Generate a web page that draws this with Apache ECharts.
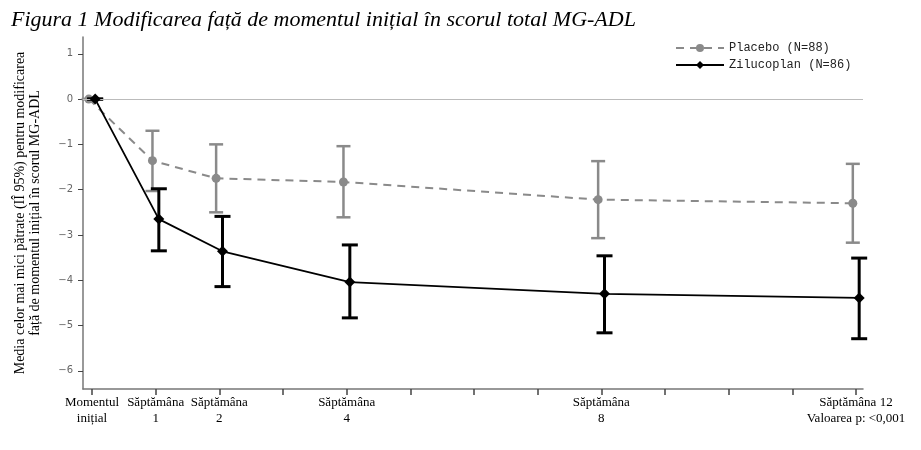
<!DOCTYPE html>
<html>
<head>
<meta charset="utf-8">
<script src="https://cdn.jsdelivr.net/npm/echarts@6/dist/echarts.min.js"></script>
<style>
html,body{margin:0;padding:0;background:#fff;}
#chart{width:921px;height:450px;}
</style>
</head>
<body>
<div id="chart"></div>
<script>
// ---- data ----
var weeks = [0, 1, 2, 4, 8, 12];
var weekLabels = ['Momentul\ninițial', 'Săptămâna\n1', 'Săptămâna\n2', 'Săptămâna\n4', 'Săptămâna\n8', 'Săptămâna 12\nValoarea p: <0,001'];
var yTicks = [1, 0, -1, -2, -3, -4, -5, -6];

var placeboMean = [0, -1.36, -1.75, -1.83, -2.22, -2.30];
var placeboLow  = [0, -2.03, -2.50, -2.61, -3.07, -3.17];
var placeboHigh = [0, -0.70, -1.00, -1.04, -1.37, -1.43];

var ziluMean = [0, -2.65, -3.36, -4.04, -4.30, -4.39];
var ziluLow  = [0, -3.35, -4.14, -4.83, -5.16, -5.29];
var ziluHigh = [0, -1.98, -2.59, -3.22, -3.46, -3.51];

var placeboName = 'Placebo (N=88)';
var ziluName = 'Zilucoplan (N=86)';
var titleText = 'Figura 1 Modificarea față de momentul inițial în scorul total MG-ADL';
var yName = 'Media celor mai mici pătrate (IÎ 95%) pentru modificarea\nfață de momentul inițial în scorul MG-ADL';

// small horizontal dodge so the two groups do not overlap
var dodge = 0.05;

function pts(means, off) {
  return weeks.map(function (w, i) { return [w + off, means[i]]; });
}
function bars(low, high, off) {
  return weeks.map(function (w, i) { return [w + off, low[i], high[i]]; });
}
function errorRender(color, width, cap) {
  return function (params, api) {
    var x = api.value(0);
    var lo = api.coord([x, api.value(1)]);
    var hi = api.coord([x, api.value(2)]);
    var style = { stroke: color, lineWidth: width };
    return {
      type: 'group',
      children: [
        { type: 'line', shape: { x1: lo[0], y1: lo[1], x2: hi[0], y2: hi[1] }, style: style },
        { type: 'line', shape: { x1: lo[0] - cap, y1: lo[1], x2: lo[0] + cap, y2: lo[1] }, style: style },
        { type: 'line', shape: { x1: hi[0] - cap, y1: hi[1], x2: hi[0] + cap, y2: hi[1] }, style: style }
      ]
    };
  };
}

var labelMap = {};
weeks.forEach(function (w, i) { labelMap[w] = weekLabels[i]; });

var chart = echarts.init(document.getElementById('chart'), null, { renderer: 'canvas' });
var option = {
  animation: false,
  title: {
    text: titleText,
    left: 6, top: 4,
    textStyle: { fontFamily: 'Liberation Serif', fontStyle: 'italic', fontWeight: 'normal', fontSize: 22, color: '#000' }
  },
  legend: {
    orient: 'vertical',
    left: 670, top: 37,
    itemWidth: 48, itemHeight: 10, itemGap: 5,
    textStyle: { fontFamily: 'Liberation Mono', fontSize: 12, color: '#222' },
    data: [placeboName, ziluName]
  },
  grid: { left: 83, right: 58, top: 37, bottom: 61 },
  xAxis: {
    type: 'value',
    min: -0.141, max: 12.11,
    splitLine: { show: false },
    axisLine: { show: true, onZero: false, lineStyle: { color: '#777', width: 1.5 } },
    axisTick: { show: true, length: 6, lineStyle: { color: '#444', width: 1.5 }, customValues: [0,1,2,3,4,5,6,7,8,9,10,11,12] },
    axisLabel: {
      customValues: weeks,
      formatter: function (v) { return labelMap[v] || ''; },
      fontFamily: 'Liberation Serif', fontSize: 13, color: '#000', lineHeight: 16, margin: 6
    }
  },
  yAxis: {
    type: 'value',
    min: -6.4, max: 1.37,
    name: yName,
    nameLocation: 'middle',
    nameGap: 40,
    nameMoveOverlap: false,
    nameTextStyle: { fontFamily: 'Liberation Serif', fontSize: 14, color: '#000', lineHeight: 15 },
    splitLine: { show: false },
    axisLine: { show: true, onZero: false, lineStyle: { color: '#777', width: 1.5 } },
    axisTick: { show: true, length: 5, lineStyle: { color: '#444' }, customValues: yTicks },
    axisLabel: {
      customValues: yTicks,
      formatter: function (v) { return String(v).replace('-', '\u2212'); },
      fontFamily: 'DejaVu Sans', fontSize: 10, color: '#666', margin: 10
    }
  },
  series: [
    {
      name: placeboName,
      type: 'line',
      data: pts(placeboMean, -dodge),
      symbol: 'circle', symbolSize: 9,
      itemStyle: { color: '#8a8a8a' },
      lineStyle: { color: '#8a8a8a', width: 2, type: [8, 6] },
      z: 3,
      markLine: {
        silent: true, symbol: 'none', label: { show: false },
        lineStyle: { color: '#bbbbbb', width: 1.2, type: 'solid' },
        data: [{ yAxis: 0 }],
        animation: false
      }
    },
    {
      name: placeboName,
      type: 'custom',
      renderItem: errorRender('#8a8a8a', 2.5, 7),
      data: bars(placeboLow, placeboHigh, -dodge),
      encode: { x: 0, y: [1, 2] },
      z: 2
    },
    {
      name: ziluName,
      type: 'line',
      data: pts(ziluMean, dodge),
      symbol: 'diamond', symbolSize: 11,
      itemStyle: { color: '#000' },
      lineStyle: { color: '#000', width: 1.8 },
      z: 5
    },
    {
      name: ziluName,
      type: 'custom',
      renderItem: errorRender('#000', 3, 8),
      data: bars(ziluLow, ziluHigh, dodge),
      encode: { x: 0, y: [1, 2] },
      z: 4
    }
  ]
};
chart.setOption(option);
</script>
</body>
</html>
